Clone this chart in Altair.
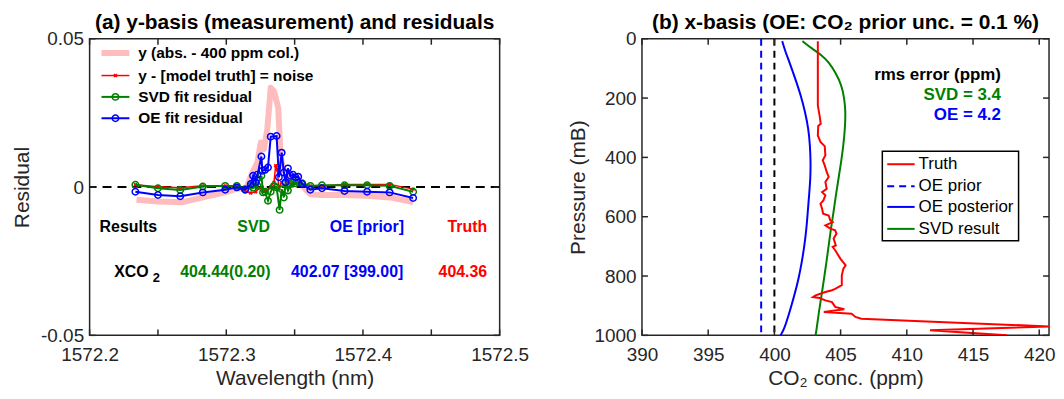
import altair as alt
import pandas as pd

FONT = "Liberation Sans"
AX = "#262626"
PINK = "#ffbcbc"
RED = "#ff0000"
GREEN = "#008000"
BLUE = "#0000ff"

# ---------------- Panel (a): y-basis residuals ----------------
pink_wl = [1572.2343, 1572.2500, 1572.2682, 1572.2828, 1572.2992, 1572.3082, 1572.3143,
           1572.3191, 1572.3228, 1572.3252, 1572.3276, 1572.3300, 1572.3325, 1572.3349,
           1572.3380, 1572.3397, 1572.3417, 1572.3446, 1572.3482, 1572.3518, 1572.3555,
           1572.3615, 1572.3700, 1572.3865, 1572.4030, 1572.4195, 1572.4367]
pink_res = [-0.0043, -0.0049, -0.0051, -0.0035, -0.0018, -0.0004, -0.0007,
            0.0049, 0.0083, 0.0150, 0.0128, 0.0195, 0.0335, 0.0323,
            0.0267, 0.0105, 0.0060, 0.0038, 0.0021, 0.0016, 0.0004,
            -0.0024, -0.0027, -0.0027, -0.0029, -0.0035, -0.0051]

red_wl = [1572.2335, 1572.2500, 1572.2663, 1572.2828, 1572.2992, 1572.3077, 1572.3138,
          1572.3179, 1572.3215, 1572.3240, 1572.3264, 1572.3288, 1572.3325, 1572.3349,
          1572.3361, 1572.3373, 1572.3385, 1572.3405, 1572.3421, 1572.3451, 1572.3487,
          1572.3506, 1572.3555, 1572.3615, 1572.3700, 1572.3865, 1572.4030, 1572.4195,
          1572.4367]
red_res = [0.0008, 0.0001, -0.0002, 0.0004, 0.0004, 0.0001, -0.0016,
           -0.0020, -0.0016, -0.0004, -0.0001, -0.0013, 0.0001, 0.0016,
           0.0072, 0.0058, -0.0006, 0.0016, 0.0004, 0.0021, 0.0004,
           0.0013, 0.0006, 0.0004, 0.0004, 0.0009, 0.0009, 0.0009,
           -0.0007]

svd_wl = [1572.2335, 1572.2500, 1572.2663, 1572.2828, 1572.2992, 1572.3077, 1572.3138,
          1572.3179, 1572.3196, 1572.3215, 1572.3228, 1572.3257, 1572.3269, 1572.3283,
          1572.3305, 1572.3325, 1572.3349, 1572.3368, 1572.3390, 1572.3405, 1572.3421,
          1572.3434, 1572.3451, 1572.3470, 1572.3487, 1572.3506, 1572.3526, 1572.3555,
          1572.3615, 1572.3700, 1572.3865, 1572.4030, 1572.4195, 1572.4367]
svd_res = [0.0008, -0.0004, -0.0010, 0.0002, 0.0004, 0.0004, -0.0007,
           0.0004, -0.0002, 0.0013, 0.0004, 0.0038, -0.0018, -0.0016,
           -0.0046, -0.0016, 0.0004, -0.0001, -0.0077, -0.0007, -0.0035,
           0.0016, -0.0012, 0.0010, 0.0016, 0.0013, 0.0016, 0.0013,
           0.0004, 0.0006, 0.0006, 0.0006, 0.0004, -0.0016]

oe_wl = [1572.2335, 1572.2500, 1572.2663, 1572.2828, 1572.2992, 1572.3077, 1572.3138,
         1572.3179, 1572.3196, 1572.3215, 1572.3228, 1572.3257, 1572.3264, 1572.3283,
         1572.3305, 1572.3325, 1572.3368, 1572.3385, 1572.3405, 1572.3421, 1572.3434,
         1572.3451, 1572.3470, 1572.3487, 1572.3506, 1572.3526, 1572.3555, 1572.3615,
         1572.3700, 1572.3865, 1572.4030, 1572.4195, 1572.4367]
oe_res = [-0.0016, -0.0027, -0.0031, -0.0018, -0.0009, -0.0001, -0.0009,
          0.0010, 0.0038, 0.0016, 0.0042, 0.0103, 0.0055, 0.0058,
          0.0066, 0.0170, 0.0172, 0.0033, 0.0116, 0.0049, 0.0016,
          0.0063, 0.0038, 0.0042, 0.0033, 0.0035, 0.0010, -0.0009,
          -0.0004, -0.0013, -0.0016, -0.0018, -0.0037]

legend_a_labels = ["y (abs. - 400 ppm col.)", "y - [model truth] = noise",
                   "SVD fit residual", "OE fit residual"]
results_header = ["Results", "SVD", "OE [prior]", "Truth"]
results_values = ["404.44(0.20)", "402.07 [399.00]", "404.36"]

# ---------------- Panel (b): x-basis profiles ----------------
truth_p = [8, 225, 258, 287, 294, 326, 348, 362, 393, 410, 427, 449, 466, 483, 506, 517,
           528, 545, 556, 573, 590, 596, 612, 618, 629, 640, 646, 657, 674, 697, 702, 713,
           742, 758, 764, 775, 798, 831, 843, 848, 854, 865, 871, 874, 882, 888, 904, 912,
           921, 927, 938, 944, 953, 970, 983, 1000]
truth_co2 = [403.28, 403.28, 403.41, 403.50, 403.31, 403.28, 403.48, 403.80, 403.85, 403.65,
             403.80, 403.95, 404.10, 403.85, 403.95, 403.60, 403.85, 403.70, 403.48, 403.60,
             403.68, 404.10, 404.22, 404.40, 403.85, 404.22, 404.59, 404.69, 404.47, 404.64,
             404.40, 404.59, 404.99, 405.28, 405.38, 405.21, 405.09, 405.09, 404.59, 404.35,
             403.85, 403.11, 402.91, 403.41, 403.85, 404.35, 404.59, 405.28, 403.73, 405.83,
             406.12, 406.57, 411.50, 420.74, 411.75, 417.56]

post_p = [8, 45, 79, 135, 191, 247, 303, 360, 416, 472, 528, 584, 640, 697, 753, 809,
          865, 921, 978, 1000]
post_co2 = [400.59, 400.84, 401.14, 401.58, 402.00, 402.32, 402.57, 402.69, 402.74, 402.72,
            402.62, 402.52, 402.42, 402.27, 402.07, 401.83, 401.51, 401.15, 400.75, 400.47]

svd_p = [8, 34, 56, 79, 112, 157, 202, 247, 303, 360, 416, 472, 528, 584, 640, 697, 753,
         809, 865, 921, 978, 1000]
svd_co2 = [402.12, 402.86, 403.60, 404.10, 404.59, 405.09, 405.28, 405.38, 405.33, 405.21,
           405.04, 404.84, 404.64, 404.47, 404.27, 404.10, 403.93, 403.75, 403.56, 403.36,
           403.19, 403.11]

prior_co2 = 399.0
ref_co2 = 400.0
legend_b_labels = ["Truth", "OE prior", "OE posterior", "SVD result"]
rms_lines = ["rms error (ppm)", "SVD  = 3.4", "OE  = 4.2"]

# ---------------- geometry ----------------
W1, W2, H = 412, 409, 298
TICK = 6
TITLE_OFFSET = -24

xs1 = alt.Scale(domain=[1572.2, 1572.5], nice=False, zero=False)
ys1 = alt.Scale(domain=[-0.05, 0.05], nice=False, zero=False)
X1 = alt.X("wl:Q", scale=xs1, title="Wavelength (nm)",
           axis=alt.Axis(values=[1572.2, 1572.3, 1572.4, 1572.5], format=".1f",
                         labelPadding=10, titlePadding=3))
Y1 = alt.Y("res:Q", scale=ys1, title="Residual",
           axis=alt.Axis(values=[-0.05, 0, 0.05], labelExpr="toString(datum.value)",
                         labelPadding=6, titlePadding=8))


def pts(**kw):
    return pd.DataFrame(kw)


pink = alt.Chart(pts(wl=pink_wl, res=pink_res)).mark_line(
    color=PINK, strokeWidth=6, strokeJoin="round").encode(x=X1, y=Y1)
zero = alt.Chart(pts(res=[0.0])).mark_rule(
    color="black", strokeWidth=2, strokeDash=[9, 6]).encode(y=Y1)
red_l = alt.Chart(pts(wl=red_wl, res=red_res)).mark_line(
    color=RED, strokeWidth=1.5).encode(x=X1, y=Y1)
red_p = alt.Chart(pts(wl=red_wl, res=red_res)).mark_point(
    shape="cross", angle=45, size=16, color=RED, filled=True, opacity=1).encode(x=X1, y=Y1)
svd_l = alt.Chart(pts(wl=svd_wl, res=svd_res)).mark_line(
    color=GREEN, strokeWidth=2).encode(x=X1, y=Y1)
svd_pt = alt.Chart(pts(wl=svd_wl, res=svd_res)).mark_point(
    shape="circle", size=42, color=GREEN, filled=False, strokeWidth=1.5, opacity=1).encode(x=X1, y=Y1)
oe_l = alt.Chart(pts(wl=oe_wl, res=oe_res)).mark_line(
    color=BLUE, strokeWidth=2).encode(x=X1, y=Y1)
oe_pt = alt.Chart(pts(wl=oe_wl, res=oe_res)).mark_point(
    shape="circle", size=42, color=BLUE, filled=False, strokeWidth=1.5, opacity=1).encode(x=X1, y=Y1)

# inward ticks (MATLAB style)
xt1 = pts(wl=[1572.2, 1572.25, 1572.3, 1572.35, 1572.4, 1572.45, 1572.5])
yt1 = pts(res=[-0.05, 0.0, 0.05])
tk = dict(color=AX, strokeWidth=1.5)
ticks_a = [
    alt.Chart(xt1).mark_rule(**tk).encode(x=X1, y=alt.value(H), y2=alt.value(H - TICK)),
    alt.Chart(xt1).mark_rule(**tk).encode(x=X1, y=alt.value(0), y2=alt.value(TICK)),
    alt.Chart(yt1).mark_rule(**tk).encode(y=Y1, x=alt.value(0), x2=alt.value(TICK)),
    alt.Chart(yt1).mark_rule(**tk).encode(y=Y1, x=alt.value(W1), x2=alt.value(W1 - TICK)),
]

# legend of panel (a)
leg_res = [0.0452, 0.0376, 0.0304, 0.0232]
leg_x0, leg_x1, leg_xm, leg_xt = 1572.2087, 1572.2291, 1572.2189, 1572.2356
leg_a_cols = [PINK, RED, GREEN, BLUE]
leg_a_sw = [6, 1.5, 2, 2]
leg_lines = alt.Chart(pts(wl=[leg_x0] * 4, wl2=[leg_x1] * 4, res=leg_res,
                          c=leg_a_cols, sw=leg_a_sw)).mark_rule().encode(
    x=X1, x2="wl2:Q", y=Y1, color=alt.Color("c:N", scale=None),
    strokeWidth=alt.StrokeWidth("sw:Q", scale=None))
leg_red = alt.Chart(pts(wl=[leg_xm], res=[leg_res[1]])).mark_point(
    shape="cross", angle=45, size=16, color=RED, filled=True, opacity=1).encode(x=X1, y=Y1)
leg_circ = alt.Chart(pts(wl=[leg_xm, leg_xm], res=leg_res[2:], c=[GREEN, BLUE])).mark_point(
    shape="circle", size=42, filled=False, strokeWidth=1.5, opacity=1).encode(
    x=X1, y=Y1, color=alt.Color("c:N", scale=None))
leg_text = alt.Chart(pts(wl=[leg_xt] * 4, res=leg_res, t=legend_a_labels)).mark_text(
    align="left", baseline="middle", font=FONT, fontSize=15.5, fontWeight="bold",
    color="black").encode(x=X1, y=Y1, text="t:N")

# results annotation
hdr_left = alt.Chart(pts(wl=[1572.2073], res=[-0.0134], t=[results_header[0]])).mark_text(
    align="left", baseline="middle", font=FONT, fontSize=16, fontWeight="bold",
    color="black").encode(x=X1, y=Y1, text="t:N")
hdr_rest = alt.Chart(pts(wl=[1572.3200, 1572.4029, 1572.4764], res=[-0.0134] * 3,
                         t=results_header[1:], c=[GREEN, BLUE, RED])).mark_text(
    align="center", baseline="middle", font=FONT, fontSize=16, fontWeight="bold").encode(
    x=X1, y=Y1, text="t:N", color=alt.Color("c:N", scale=None))
xco = alt.Chart(pts(wl=[1572.2180], res=[-0.0285], t=["XCO"])).mark_text(
    align="left", baseline="middle", font=FONT, fontSize=16, fontWeight="bold",
    color="black").encode(x=X1, y=Y1, text="t:N")
xco_sub = alt.Chart(pts(wl=[1572.2462], res=[-0.0307], t=["2"])).mark_text(
    align="left", baseline="middle", font=FONT, fontSize=13, fontWeight="bold",
    color="black").encode(x=X1, y=Y1, text="t:N")
vals = alt.Chart(pts(wl=[1572.2993, 1572.3884, 1572.4731], res=[-0.0285] * 3,
                     t=results_values, c=[GREEN, BLUE, RED])).mark_text(
    align="center", baseline="middle", font=FONT, fontSize=16, fontWeight="bold").encode(
    x=X1, y=Y1, text="t:N", color=alt.Color("c:N", scale=None))

left = alt.layer(
    pink, zero, red_l, red_p, svd_l, svd_pt, oe_l, oe_pt, *ticks_a,
    leg_lines, leg_red, leg_circ, leg_text, hdr_left, hdr_rest, xco, xco_sub, vals
).properties(
    width=W1, height=H,
    title=alt.TitleParams("(a) y-basis (measurement) and residuals", fontSize=21,
                          fontWeight="bold", font=FONT, color="black", anchor="middle",
                          baseline="bottom", offset=TITLE_OFFSET))

# ---------------- right panel ----------------
xs2 = alt.Scale(domain=[390, 420.74], nice=False, zero=False)
ys2 = alt.Scale(domain=[0, 1000], reverse=True, nice=False, zero=False)
X2 = alt.X("co2:Q", scale=xs2, title="CO\u2082  conc. (ppm)",
           axis=alt.Axis(values=[390, 395, 400, 405, 410, 415, 420], format="d",
                         labelPadding=10, titlePadding=3))
Y2 = alt.Y("p:Q", scale=ys2, title="Pressure (mB)",
           axis=alt.Axis(values=[0, 200, 400, 600, 800, 1000], format="d", labelPadding=6,
                         titlePadding=5))

prior = alt.Chart(pts(co2=[prior_co2])).mark_rule(
    color=BLUE, strokeWidth=2, strokeDash=[7, 5]).encode(x=X2)
refl = alt.Chart(pts(co2=[ref_co2])).mark_rule(
    color="black", strokeWidth=2, strokeDash=[7, 5]).encode(x=X2)
post = alt.Chart(pts(co2=post_co2, p=post_p)).mark_line(
    color=BLUE, strokeWidth=2, interpolate="basis").encode(x=X2, y=Y2, order="p:Q")
svdb = alt.Chart(pts(co2=svd_co2, p=svd_p)).mark_line(
    color=GREEN, strokeWidth=2, interpolate="basis").encode(x=X2, y=Y2, order="p:Q")
truth = alt.Chart(pts(co2=truth_co2, p=truth_p)).mark_line(
    color=RED, strokeWidth=2, clip=True).encode(x=X2, y=Y2, order="p:Q")

xt2 = pts(co2=[390, 395, 400, 405, 410, 415, 420])
yt2 = pts(p=[0, 200, 400, 600, 800, 1000])
ticks_b = [
    alt.Chart(xt2).mark_rule(**tk).encode(x=X2, y=alt.value(H), y2=alt.value(H - TICK)),
    alt.Chart(xt2).mark_rule(**tk).encode(x=X2, y=alt.value(0), y2=alt.value(TICK)),
    alt.Chart(yt2).mark_rule(**tk).encode(y=Y2, x=alt.value(0), x2=alt.value(TICK)),
    alt.Chart(yt2).mark_rule(**tk).encode(y=Y2, x=alt.value(W2), x2=alt.value(W2 - TICK)),
]

rms = alt.Chart(pts(co2=[417.11] * 3, p=[121, 191, 258], t=rms_lines,
                    c=["black", GREEN, BLUE])).mark_text(
    align="right", baseline="middle", font=FONT, fontSize=17, fontWeight="bold").encode(
    x=X2, y=Y2, text="t:N", color=alt.Color("c:N", scale=None))

box = alt.Chart(pts(co2=[408.15], co2b=[418.44], p=[379], pb=[681])).mark_rect(
    fill="white", stroke="black", strokeWidth=1.5).encode(
    x=X2, x2="co2b:Q", y=Y2, y2="pb:Q")
leg_p = [423, 497, 567, 641]
lb_solid = alt.Chart(pts(co2=[408.52] * 3, co2b=[410.59] * 3, p=[leg_p[0], leg_p[2], leg_p[3]],
                         c=[RED, BLUE, GREEN])).mark_rule(strokeWidth=2).encode(
    x=X2, x2="co2b:Q", y=Y2, color=alt.Color("c:N", scale=None))
lb_dash = alt.Chart(pts(co2=[408.52], co2b=[410.59], p=[leg_p[1]])).mark_rule(
    strokeWidth=2, color=BLUE, strokeDash=[7, 5]).encode(x=X2, x2="co2b:Q", y=Y2)
lb_text = alt.Chart(pts(co2=[410.89] * 4, p=leg_p, t=legend_b_labels)).mark_text(
    align="left", baseline="middle", font=FONT, fontSize=17, color="black").encode(
    x=X2, y=Y2, text="t:N")

right = alt.layer(
    prior, refl, post, svdb, truth, *ticks_b, rms, box, lb_solid, lb_dash, lb_text
).properties(
    width=W2, height=H,
    title=alt.TitleParams("(b) x-basis (OE: CO\u2082 prior unc. = 0.1 %)", fontSize=21,
                          fontWeight="bold", font=FONT, color="black", anchor="middle",
                          baseline="bottom", offset=TITLE_OFFSET))

chart = alt.hconcat(left, right, spacing=37).properties(
    padding={"left": 2, "top": 2, "right": 0, "bottom": 0}
).configure_axis(
    labelFont=FONT, titleFont=FONT, labelFontSize=19, titleFontSize=21,
    labelColor=AX, titleColor=AX, titleFontWeight="normal", ticks=False,
    domain=False, grid=False, labelFlush=False
).configure_view(stroke=AX, strokeWidth=1.5)

chart.save("out.html", embed_options={"renderer": "svg", "actions": False})
